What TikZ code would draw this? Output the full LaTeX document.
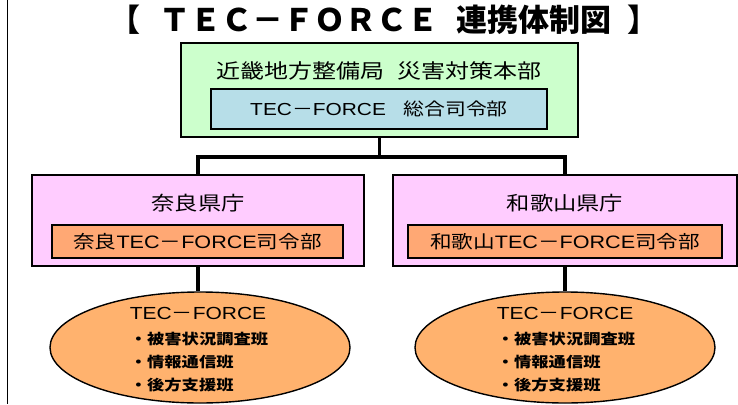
\documentclass[tikz,border=0pt]{standalone}
\usepackage{fontspec}
\setmainfont{Noto Sans CJK JP}[FakeStretch=1.2]
\newfontfamily\titlefont{Noto Sans CJK JP}
\newfontfamily\latin{Liberation Sans}[FakeStretch=1.2]
\usetikzlibrary{shapes.geometric}
\definecolor{hqgreen}{HTML}{CCFFCC}
\definecolor{cmdblue}{HTML}{B7DEE8}
\definecolor{prefpink}{HTML}{FFCCFF}
\definecolor{cmdorange}{HTML}{FFA874}
\definecolor{teamorange}{HTML}{FFB26E}
\newcommand\px[1]{\fontsize{#1}{#1}\selectfont}
\newcommand\tf{{\latin TEC}－{\latin FORCE}}
\newcommand\teamlist{・被害状況調査班\\[9pt]・情報通信班\\[9pt]・後方支援班}
\tikzset{
  box/.style={draw, line width=1.4pt, rectangle, inner sep=0pt},
  link/.style={line width=3.5pt},
  team/.style={draw, line width=1.4pt, ellipse, fill=teamorange, inner sep=0pt,
    minimum width=300pt, minimum height=111pt},
  teamitems/.style={align=left, font=\px{14.4}\bfseries},
}

\begin{document}
\begin{tikzpicture}[x=1pt, y=-1pt]
      \useasboundingbox (0, 0) rectangle (738, 404);
      \draw [line width=0.8pt] (7, 0) -- (7, 404);

      \node (title) at (384, 20) {\titlefont\px{31}\bfseries 【\hspace{0.6em}ＴＥＣ－ＦＯＲＣＥ\hspace{0.6em}連携体制図\hspace{0.5em}】};

      \node [box, fill=hqgreen, minimum width=397pt, minimum height=94pt] (hq) at (379.5, 90) {};
      \node (hqname) at (379, 71) {\px{20}近畿地方整備局\hspace{0.7em}災害対策本部};
      \node [box, fill=cmdblue, minimum width=336pt, minimum height=40pt] (hqcmd) at (379, 109) {\px{17.4}\tf\hspace{1em}総合司令部};

      \node [box, fill=prefpink, minimum width=332pt, minimum height=91pt] (nara) at (198, 220.5) {};
      \node (naraname) at (198, 203) {\px{19.4}奈良県庁};
      \node [box, fill=cmdorange, minimum width=291pt, minimum height=33pt] (naracmd) at (197.5, 241.5) {\px{18}奈良\tf 司令部};

      \node [box, fill=prefpink, minimum width=344pt, minimum height=91pt] (waka) at (565, 220.5) {};
      \node (wakaname) at (565, 203) {\px{19.4}和歌山県庁};
      \node [box, fill=cmdorange, minimum width=314pt, minimum height=33pt] (wakacmd) at (565, 241.5) {\px{18}和歌山\tf 司令部};

      \node [team] (narateam) at (200, 347.5) {};
      \node (narateamname) at (198, 313) {\px{17.5}\tf};
      \node [teamitems] (naralist) at (199, 362) {\teamlist};

      \node [team] (wakateam) at (565, 347.5) {};
      \node (wakateamname) at (565, 313) {\px{17.5}\tf};
      \node [teamitems] (wakalist) at (566, 362) {\teamlist};

      \coordinate (bus) at (hq.south |- 0, 157);
      \draw [link] (hq.south) -- (bus);
      \draw [link] (nara.north) |- (bus) -| (waka.north);
      \draw [link] (nara.south) -- (narateam.north -| nara.south);
      \draw [link] (waka.south) -- (wakateam.north);
    \end{tikzpicture}
\end{document}
